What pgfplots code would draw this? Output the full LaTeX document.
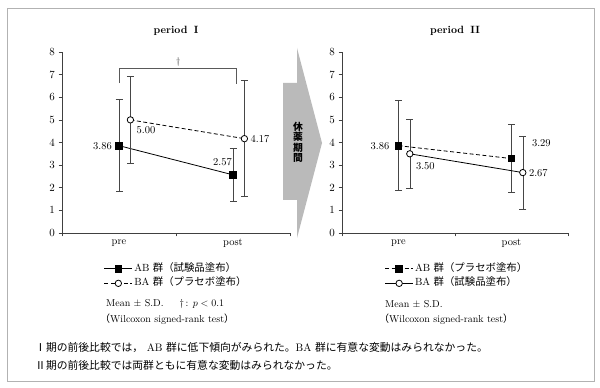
\documentclass[border=0pt]{standalone}
\usepackage{fontspec}
\usepackage{pgfplots}
\usepackage{pgfplotstable}
\pgfplotsset{compat=1.18}
\newfontfamily\cjk{Noto Sans CJK JP}

\pgfplotstableread{
x y e
0.5 3.86 2.03
1.5 2.57 1.17
}\leftAB
\pgfplotstableread{
x y e
0.6 5.00 1.92
1.6 4.17 2.56
}\leftBA
\pgfplotstableread{
x y e
0.5 3.86 1.99
1.5 3.29 1.50
}\rightAB
\pgfplotstableread{
x y e
0.6 3.50 1.52
1.6 2.67 1.60
}\rightBA

\tikzset{num/.style={font=\fontsize{10.5}{12}\selectfont, inner sep=0pt}}
\pgfplotsset{
 panel/.style={
  scale only axis, height=181pt, xmin=0, xmax=2, ymin=0, ymax=8,
  axis lines*=left,
  axis line style={black!75, line width=0.6pt},
  xtick={0,1,2}, xticklabels={},
  extra x ticks={0.5,1.5}, extra x tick labels={pre,post},
  extra x tick style={major tick length=0pt},
  xticklabel style={yshift=-3pt},
  ytick={0,1,...,8},
  tick align=outside, major tick length=3.5pt,
  tick style={black!75, line width=0.6pt},
  tick label style={font=\fontsize{10.5}{12}\selectfont},
  clip=false,
  legend style={draw=none, fill=none, font=\fontsize{10.4}{12}\selectfont,
    cells={anchor=west}, row sep=1.5pt,
    nodes={inner sep=1.5pt, text height=7.5pt, text depth=2.5pt}},
  legend image code/.code={\draw[mark repeat=2,mark phase=2] plot coordinates {(0pt,0pt)(14pt,0pt)(28pt,0pt)};},
 },
 errb/.style={/pgfplots/error bars/y dir=both, /pgfplots/error bars/y explicit,
   /pgfplots/error bars/error bar style={gray!55!black, line width=0.5pt, solid},
   /pgfplots/error bars/error mark options={rotate=90, gray!55!black, mark size=3.5pt, line width=0.5pt, solid}},
 sqline/.style={black, line width=0.8pt, mark=square*, mark size=3.3pt, mark options={solid, fill=black}},
 ciline/.style={black, line width=0.8pt, mark=*, mark size=3.2pt, mark options={solid, fill=white, draw=black}},
 dsh/.style={dash pattern=on 4pt off 2.5pt},
}

\begin{document}
\begin{tikzpicture}[x=1pt,y=1pt]
\useasboundingbox (0,0) rectangle (600,388);
\fill[white] (0,0) rectangle (600,388);
\draw[gray!60, line width=0.8pt] (7,7) rectangle (594,380);

% arrow
\fill[black!27] (283,305) -- (297,305) -- (297,340) -- (322,245) -- (297,150) -- (297,188) -- (283,188) -- cycle;
\node[font={\cjk\bfseries\fontsize{9.8}{10.4}\selectfont}, align=center, inner sep=0pt] at (298,245.5) {休\\薬\\期\\間};

% titles
\node[font=\bfseries\fontsize{10.5}{12}\selectfont] at (176,357) {period\hspace{0.6em}I};
\node[font=\bfseries\fontsize{10.5}{12}\selectfont] at (455,357) {period\hspace{0.6em}II};

% left panel
\begin{axis}[panel, width=228pt, at={(62pt,155pt)}, anchor=south west,
  legend style={at={(0.17,-0.15)}, anchor=north west}]
\addplot[sqline, errb] table[x=x, y=y, y error=e] {\leftAB};
\addlegendentry{AB {\cjk 群（試験品塗布）}}
\addplot[ciline, dsh, errb] table[x=x, y=y, y error=e] {\leftBA};
\addlegendentry{BA {\cjk 群（プラセボ塗布）}}
\draw[gray!70!black, line width=0.5pt] (axis cs:0.5,6.62) -- (axis cs:0.5,7.29) -- (axis cs:1.53,7.29) -- (axis cs:1.53,6.60);
\node[font=\fontsize{9.5}{10}\selectfont, gray!30!black] at (axis cs:1.02,7.57) {\dag};
\node[num, anchor=east] at (axis cs:0.5,3.86) [xshift=-7pt] {3.86};
\node[num, anchor=north west] at (axis cs:0.6,5.00) [xshift=6pt, yshift=-6pt] {5.00};
\node[num, anchor=south east] at (axis cs:1.5,2.57) [xshift=-1pt, yshift=9pt] {2.57};
\node[num, anchor=west] at (axis cs:1.6,4.17) [xshift=6pt] {4.17};
\end{axis}

% right panel
\begin{axis}[panel, width=226pt, at={(342pt,155pt)}, anchor=south west,
  legend style={at={(0.175,-0.15)}, anchor=north west}]
\addplot[sqline, dsh, errb] table[x=x, y=y, y error=e] {\rightAB};
\addlegendentry{AB {\cjk 群（プラセボ塗布）}}
\addplot[ciline, errb] table[x=x, y=y, y error=e] {\rightBA};
\addlegendentry{BA {\cjk 群（試験品塗布）}}
\node[num, anchor=east] at (axis cs:0.5,3.86) [xshift=-9pt] {3.86};
\node[num, anchor=north west] at (axis cs:0.6,3.50) [xshift=6pt, yshift=-8pt] {3.50};
\node[num, anchor=west] at (axis cs:1.68,3.98) {3.29};
\node[num, anchor=west] at (axis cs:1.6,2.67) [xshift=6pt] {2.67};
\end{axis}

% notes under legends
\node[anchor=west, inner sep=0pt, font=\fontsize{10}{12}\selectfont] at (106,84) {Mean $\pm$ S.D.\hspace{1.6em}\dag\,: $p<0.1$};
\node[anchor=west, inner sep=0pt, font=\fontsize{10}{12}\selectfont] at (100,69) {{\cjk （}Wilcoxon signed-rank test{\cjk ）}};
\node[anchor=west, inner sep=0pt, font=\fontsize{10}{12}\selectfont] at (385,84) {Mean $\pm$ S.D.};
\node[anchor=west, inner sep=0pt, font=\fontsize{10}{12}\selectfont] at (379,69) {{\cjk （}Wilcoxon signed-rank test{\cjk ）}};

% bottom text
\node[anchor=west, inner sep=0pt, font=\fontsize{10.8}{12}\selectfont] at (35,40) {{\cjk Ⅰ期の前後比較では，} AB {\cjk 群に低下傾向がみられた。}BA {\cjk 群に有意な変動はみられなかった。}};
\node[anchor=west, inner sep=0pt, font=\fontsize{10.8}{12}\selectfont] at (35,23) {{\cjk Ⅱ期の前後比較では両群ともに有意な変動はみられなかった。}};
\end{tikzpicture}
\end{document}
